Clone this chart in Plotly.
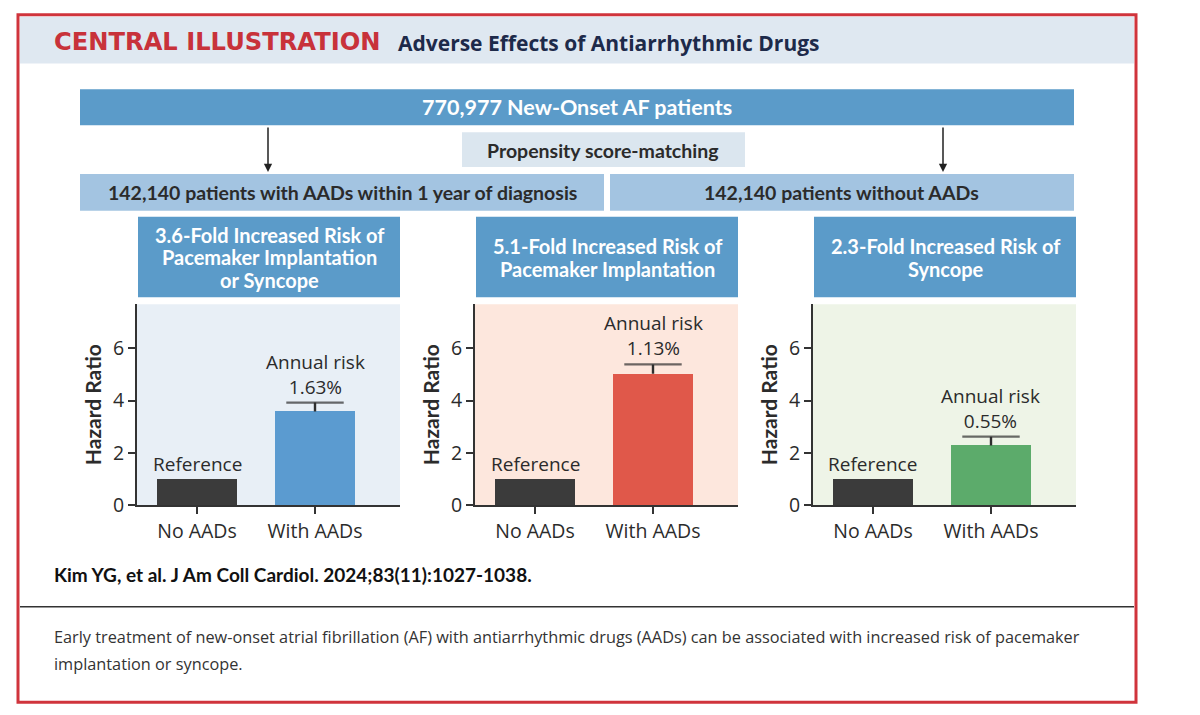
import plotly.graph_objects as go

W, H = 1200, 715
OFFX = 8      # horizontal page offset
OFFY = 7.2    # vertical page offset
SY = 0.987    # vertical scale observed in the rendering

# ---------------- data ----------------
categories = ["No AADs", "With AADs"]
hr_pacemaker_or_syncope = [1.0, 3.58]
hr_pacemaker = [1.0, 5.02]
hr_syncope = [1.0, 2.28]
upper_pacemaker_or_syncope = [None, 3.92]
upper_pacemaker = [None, 5.38]
upper_syncope = [None, 2.62]
annual_risk = ["1.63%", "1.13%", "0.55%"]
panel_titles = [
    "3.6-Fold Increased Risk of<br>Pacemaker Implantation<br>or Syncope",
    "5.1-Fold Increased Risk of<br>Pacemaker Implantation",
    "2.3-Fold Increased Risk of<br>Syncope",
]
y_ticks = [0, 2, 4, 6]

# ---------------- style ----------------
BAR_COLORS = ["#5b9bd0", "#e0584a", "#5cab6b"]
BG_COLORS = ["#e8eff6", "#fde7dd", "#eef4e7"]
REF_COLOR = "#3b3b3b"
BOX_BLUE = "#5b9bc9"
BOX_LIGHT = "#a3c4e1"
BOX_PALE = "#dbe6ef"
TXT = "#2b2b2b"
BOLD_FONT = "Lato"
FONT = "Open Sans"


def px(x):
    return (x - OFFX) / W


def py(y):
    return 1 - ((y - OFFY) / SY) / H


fig = go.Figure()
shapes = []
annotations = []


def rect(x0, y0, x1, y1, fill, layer="below"):
    shapes.append(dict(type="rect", xref="paper", yref="paper",
                       x0=px(x0), x1=px(x1), y0=py(y1), y1=py(y0),
                       fillcolor=fill, line=dict(color=fill, width=0), layer=layer))


def text(x, y, s, size, color, bold=False, xanchor="center", family=None, yanchor="middle"):
    annotations.append(dict(xref="paper", yref="paper", x=px(x), y=py(y), text=s,
                            showarrow=False, xanchor=xanchor, yanchor=yanchor,
                            font=dict(size=size, color=color,
                                      family=family or (BOLD_FONT if bold else FONT),
                                      weight="bold" if bold else "normal")))


# header band and border
rect(20, 16, 1134, 63, "#dfe8f1")
shapes.append(dict(type="rect", xref="paper", yref="paper", x0=px(18), x1=px(1136),
                   y0=py(705), y1=py(14), line=dict(color="#d0343c", width=3),
                   fillcolor="rgba(0,0,0,0)", layer="above"))
text(52, 41, "CENTRAL ILLUSTRATION", 24.2, "#c8323a", bold=True, xanchor="left", family="DejaVu Sans")
text(396, 42, "Adverse Effects of Antiarrhythmic Drugs", 21, "#1d2a4a", bold=True, xanchor="left", family="Open Sans")

# flow boxes
rect(80, 89, 1074, 125, BOX_BLUE)
text(577, 107, "770,977 New-Onset AF patients", 21.5, "white", bold=True)
rect(462, 132, 745, 167, BOX_PALE)
text(603, 150, "Propensity score-matching", 19.5, TXT, bold=True)
rect(80, 174, 604, 211, BOX_LIGHT)
text(342, 193, "142,140 patients with AADs within 1 year of diagnosis", 19.5, TXT, bold=True)
rect(610, 174, 1074, 211, BOX_LIGHT)
text(842, 193, "142,140 patients without AADs", 19.5, TXT, bold=True)

for xa in (268, 943):
    annotations.append(dict(xref="paper", yref="paper", x=px(xa), y=py(172), ax=0, ay=-46,
                            text="", showarrow=True, arrowhead=2, arrowsize=1.1,
                            arrowwidth=1.5, arrowcolor="#222"))

# panels
starts = [137, 475, 813]
PW = 263
TOP, BOT = 305, 507
YMAX = 7.68
UNIT = 118.0
xr = [-60 / UNIT, (PW - 60) / UNIT]
series = [hr_pacemaker_or_syncope, hr_pacemaker, hr_syncope]
uppers = [upper_pacemaker_or_syncope, upper_pacemaker, upper_syncope]
LINE_H = 23

for i, s in enumerate(starts):
    ax_id = "" if i == 0 else str(i + 1)
    xa, ya = "x" + ax_id, "y" + ax_id
    # header box
    rect(s + 1, 217, s + PW, 298, BOX_BLUE)
    lines = panel_titles[i].split("<br>")
    y0 = 258 - LINE_H * (len(lines) - 1) / 2
    for k, ln in enumerate(lines):
        text(s + PW / 2 + 1, y0 + k * LINE_H, ln, 20, "white", bold=True)
    # background
    rect(s, TOP, s + PW, BOT, BG_COLORS[i])

    vals = series[i]
    up = uppers[i]
    fig.add_trace(go.Bar(
        x=categories, y=vals, xaxis=xa, yaxis=ya, width=0.68,
        marker=dict(color=[REF_COLOR, BAR_COLORS[i]], line=dict(width=0)),
        showlegend=False, hoverinfo="skip"))
    # upper whisker only (from bar top to upper CI, with cap)
    fig.add_trace(go.Scatter(
        x=[categories[1], categories[1]], y=[vals[1], up[1]], xaxis=xa, yaxis=ya,
        mode="lines+markers", line=dict(color="#2e2e2e", width=2.4),
        marker=dict(symbol="line-ew-open", size=[0, 41],
                    line=dict(color="#2e2e2e", width=2.4)),
        showlegend=False, hoverinfo="skip", cliponaxis=False))

    annotations.append(dict(xref=xa, yref=ya, x=categories[0], y=vals[0], yshift=0,
                            text="Reference", showarrow=False, yanchor="bottom",
                            font=dict(size=19, color=TXT, family=FONT)))
    annotations.append(dict(xref=xa, yref=ya, x=categories[1], y=up[1], yshift=1,
                            text="Annual risk<br>" + annual_risk[i], showarrow=False,
                            yanchor="bottom", font=dict(size=19, color=TXT, family=FONT)))

    common = dict(showline=True, linecolor="#333", linewidth=2, showgrid=False,
                  zeroline=False, ticks="outside", tickcolor="#333", tickwidth=2,
                  ticklen=7, tickfont=dict(size=19.5, color=TXT, family=FONT))
    fig.update_layout(**{
        "xaxis" + ax_id: dict(domain=[px(s), px(s + PW)], range=xr, anchor=ya,
                              type="category", categoryorder="array",
                              categoryarray=categories, fixedrange=True, **common),
        "yaxis" + ax_id: dict(domain=[py(BOT), py(TOP)], range=[0, YMAX], anchor=xa,
                              tickvals=y_ticks, fixedrange=True,
                              title=dict(text="<b>Hazard Ratio</b>", standoff=6,
                                         font=dict(size=21, color=TXT, family=BOLD_FONT)),
                              **common),
    })

# footer
text(52, 577, "Kim YG, et al. J Am Coll Cardiol. 2024;83(11):1027-1038.", 19, "#111", bold=True, xanchor="left")
shapes.append(dict(type="line", xref="paper", yref="paper", x0=px(20), x1=px(1134),
                   y0=py(609), y1=py(609), line=dict(color="#333", width=1.5)))
text(52, 640, "Early treatment of new-onset atrial fibrillation (AF) with antiarrhythmic drugs (AADs) can be associated with increased risk of pacemaker",
     16.3, "#333", xanchor="left")
text(52, 667, "implantation or syncope.", 16.3, "#333", xanchor="left")

fig.update_layout(width=W, height=H, margin=dict(l=0, r=0, t=0, b=0),
                  paper_bgcolor="white", plot_bgcolor="rgba(0,0,0,0)",
                  shapes=shapes, annotations=annotations, bargap=0)

fig.write_html("out.html")
